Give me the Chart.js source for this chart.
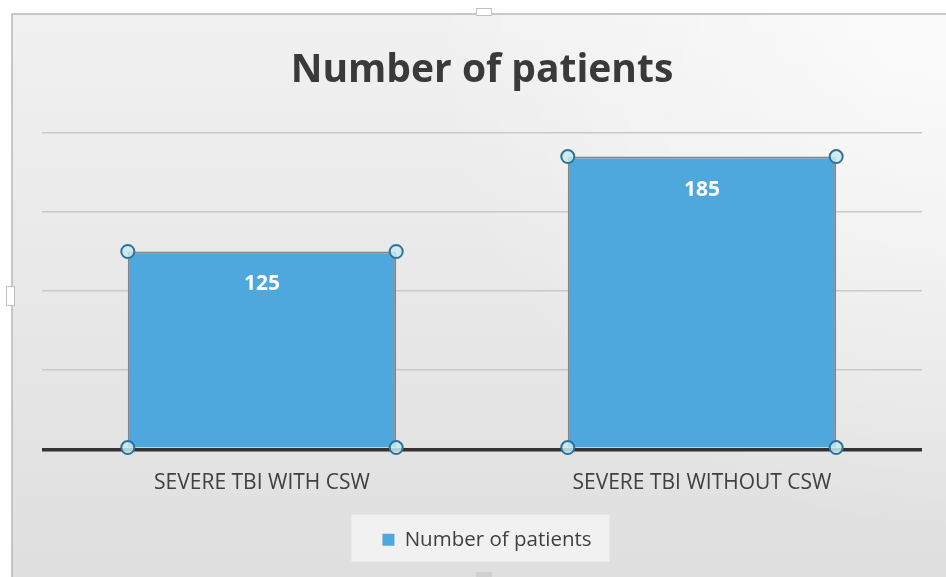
<!DOCTYPE html>
<html><head><meta charset="utf-8">
<script src="https://cdn.jsdelivr.net/npm/chart.js@4"></script>
<style>html,body{margin:0;padding:0;background:#fff;overflow:hidden}#wrap{width:946px;height:577px}</style>
</head><body><div id="wrap"><canvas id="c" width="946" height="577"></canvas></div>
<script>
const categories = ['SEVERE TBI WITH CSW', 'SEVERE TBI WITHOUT CSW'];
const seriesName = 'Number of patients';
const patients = [125, 185];
const yMin = 0, yMax = 200, yStep = 50;

const FONT = "'Open Sans', 'Noto Sans', sans-serif";
const BAR_FILL = '#4ea7dd';

const backgroundPlugin = {
  id: 'bg',
  afterUpdate(chart) {
    const lg = chart.legend;
    if (lg) {
      lg.left += 5; lg.right += 5;
      (lg.legendHitBoxes || []).forEach(h => { h.left += 5; });
    }
  },
  beforeDraw(chart) {
    const ctx = chart.ctx, W = chart.width, H = chart.height;
    ctx.save();
    ctx.fillStyle = '#ffffff';
    ctx.fillRect(0, 0, W, H);
    const g = ctx.createLinearGradient(0, 14, 0, H);
    g.addColorStop(0, '#f1f1f1');
    g.addColorStop(1, '#dfdfdf');
    ctx.fillStyle = g;
    ctx.fillRect(12, 14, W - 12, H - 14);
    const r = ctx.createRadialGradient(W, 14, 0, W, 14, 520);
    r.addColorStop(0, 'rgba(255,255,255,0.75)');
    r.addColorStop(1, 'rgba(255,255,255,0)');
    ctx.fillStyle = r;
    ctx.fillRect(12, 14, W - 12, H - 14);
    ctx.strokeStyle = '#b8b8b8';
    ctx.lineWidth = 1.5;
    ctx.beginPath();
    ctx.moveTo(12, H); ctx.lineTo(12, 14); ctx.lineTo(W, 14);
    ctx.stroke();
    // frame handles
    ctx.fillStyle = '#ffffff';
    ctx.strokeStyle = '#c0c0c0';
    ctx.lineWidth = 1;
    ctx.fillRect(476, 8, 16, 8);
    ctx.strokeRect(476.5, 8.5, 15, 7);
    ctx.fillRect(6, 286, 9, 20);
    ctx.strokeRect(6.5, 286.5, 8, 19);
    ctx.fillStyle = '#d0d0d0';
    ctx.fillRect(476, 572, 16, 5);
    // legend box
    const lg = chart.legend;
    if (lg && lg.legendHitBoxes && lg.legendHitBoxes.length) {
      const hb = lg.legendHitBoxes[0];
      const cy = hb.top + hb.height / 2;
      ctx.fillStyle = 'rgba(245,245,245,0.8)';
      ctx.fillRect(hb.left - 31, cy - 25, hb.width + 49, 47);
    }
    ctx.restore();
  }
};

const decorPlugin = {
  id: 'decor',
  afterDatasetsDraw(chart) {
    const ctx = chart.ctx;
    const meta = chart.getDatasetMeta(0);
    const data = chart.data.datasets[0].data;
    ctx.save();
    meta.data.forEach((bar, i) => {
      const p = bar.getProps(['x', 'y', 'base', 'width'], true);
      ctx.fillStyle = '#ffffff';
      ctx.font = "bold 21px " + FONT;
      ctx.textAlign = 'center';
      ctx.textBaseline = 'middle';
      ctx.fillText(String(data[i]), p.x, p.y + 33);
      const l = p.x - p.width / 2, r = p.x + p.width / 2;
      [[l, p.y], [r, p.y], [l, p.base], [r, p.base]].forEach(([hx, hy]) => {
        ctx.beginPath();
        ctx.arc(hx, hy, 6.5, 0, Math.PI * 2);
        ctx.fillStyle = 'rgba(200,235,240,0.85)';
        ctx.fill();
        ctx.lineWidth = 2;
        ctx.strokeStyle = '#2f7199';
        ctx.stroke();
      });
    });
    ctx.restore();
  }
};

new Chart(document.getElementById('c'), {
  type: 'bar',
  data: {
    labels: categories,
    datasets: [{
      label: seriesName,
      data: patients,
      backgroundColor: BAR_FILL,
      borderColor: '#858585',
      borderWidth: 2,
      categoryPercentage: 1,
      barPercentage: 0.61
    }]
  },
  options: {
    responsive: false,
    animation: false,
    devicePixelRatio: 1,
    layout: { padding: { left: 42, right: 24, top: 0, bottom: 17 } },
    plugins: {
      title: {
        display: true,
        text: 'Number of patients',
        color: '#3a3a3a',
        font: { family: FONT, size: 39, weight: 'bold' },
        padding: { top: 47, bottom: 39 }
      },
      legend: {
        position: 'bottom',
        labels: {
          color: '#404040',
          font: { family: FONT, size: 20.5 },
          boxWidth: 12,
          boxHeight: 12,
          padding: 13,
          generateLabels(chart) {
            return chart.data.datasets.map((ds, i) => ({
              text: ds.label,
              fillStyle: BAR_FILL,
              strokeStyle: BAR_FILL,
              lineWidth: 0,
              fontColor: '#404040',
              datasetIndex: i
            }));
          }
        }
      },
      tooltip: { enabled: false }
    },
    scales: {
      x: {
        grid: { display: false },
        border: { display: false },
        ticks: { color: '#404040', font: { family: FONT, size: 21 }, padding: 13 },
        afterFit(scale) { scale.height += 8; }
      },
      y: {
        min: yMin, max: yMax,
        ticks: { display: false, stepSize: yStep },
        border: { display: false },
        grid: {
          drawTicks: false,
          color: c => c.tick.value === 0 ? '#333333' : '#c9c9c9',
          lineWidth: c => c.tick.value === 0 ? 3.5 : 1.5
        }
      }
    }
  },
  plugins: [backgroundPlugin, decorPlugin]
});
</script>
</body></html>
